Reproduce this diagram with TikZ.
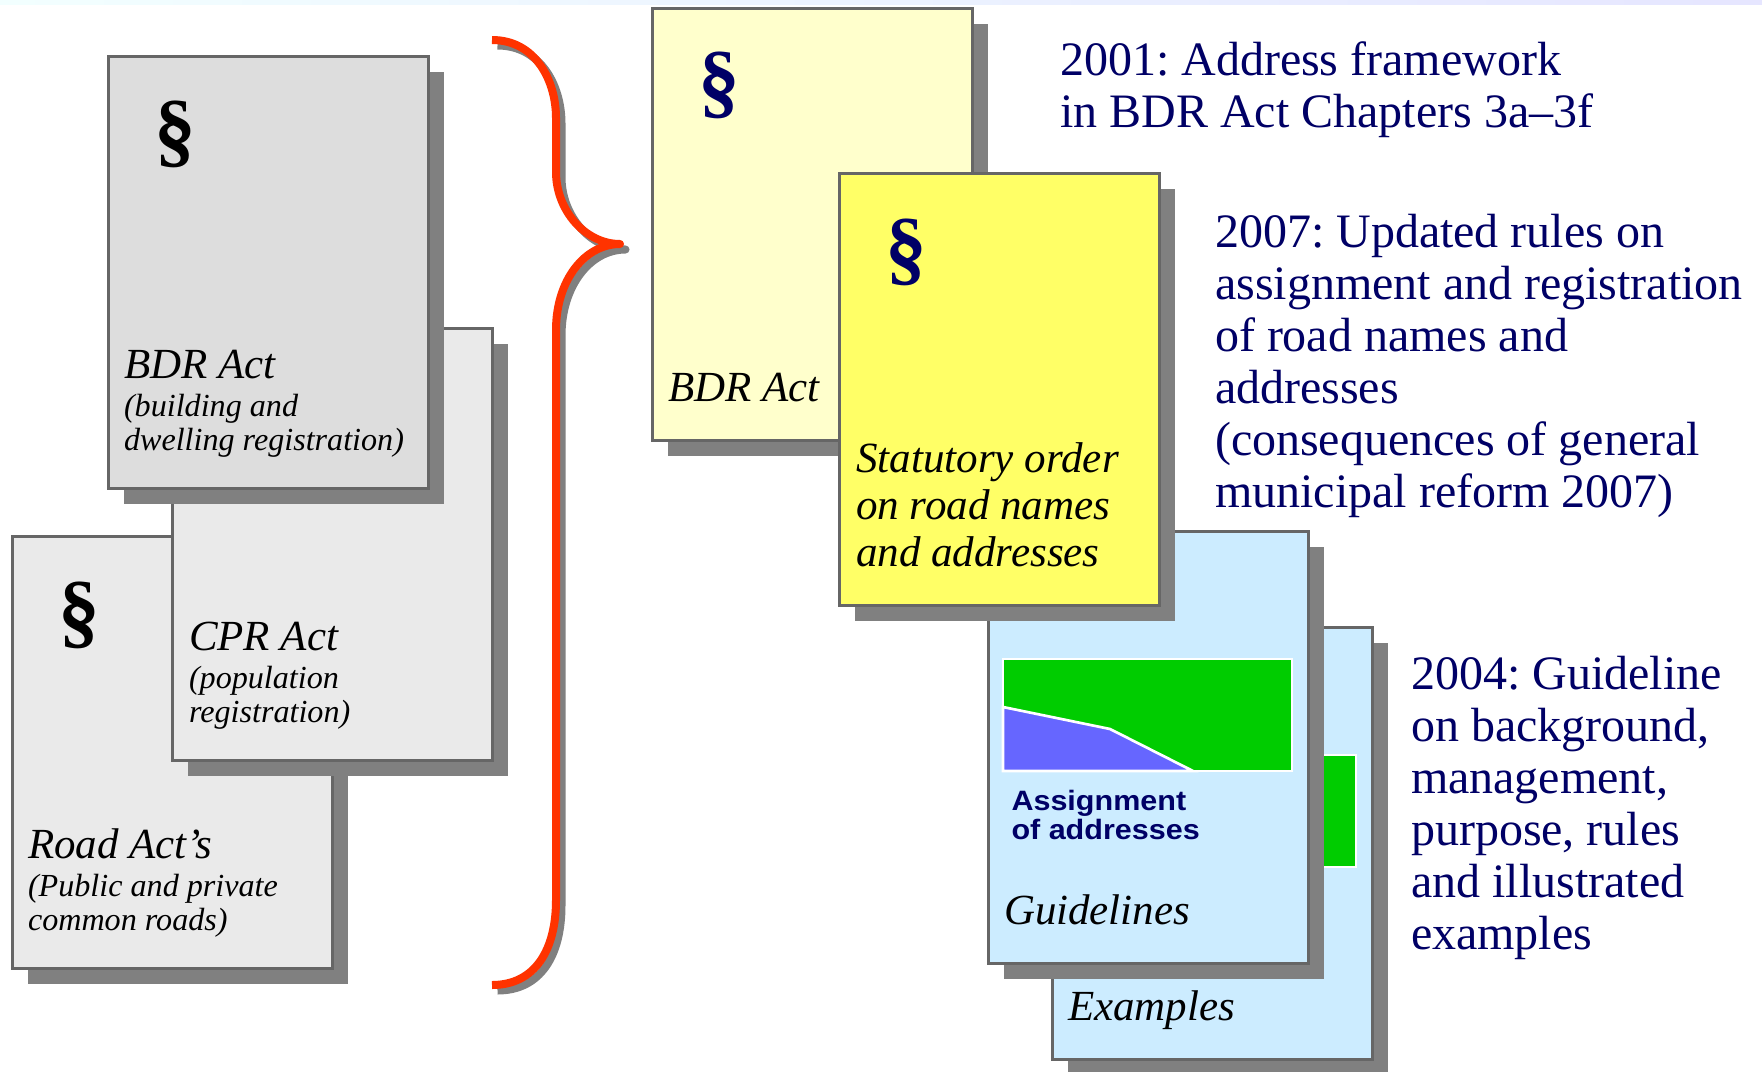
\documentclass[tikz,border=0pt]{standalone}
\usepackage{fontspec}
\setmainfont{Liberation Serif}
\setsansfont{Liberation Sans}
\newfontfamily\stretchsans[FakeStretch=1.09]{Liberation Sans}
\usetikzlibrary{shadows}
\definecolor{navy}{HTML}{000066}
\definecolor{shade}{HTML}{808080}
\definecolor{edge}{HTML}{666666}
\definecolor{greyA}{HTML}{DDDDDD}
\definecolor{greyB}{HTML}{EAEAEA}
\definecolor{paleY}{HTML}{FFFFCC}
\definecolor{brightY}{HTML}{FFFF66}
\definecolor{paleB}{HTML}{CCECFF}
\definecolor{chartG}{HTML}{00CC00}
\definecolor{chartB}{HTML}{6666FF}
\definecolor{braceR}{HTML}{FF3300}
\newcommand{\fs}[1]{\fontsize{#1}{#1}\selectfont}
\tikzset{
  x=.75pt,y=-.75pt,
  page/.style={anchor=north west,inner sep=0pt,outer sep=0pt,minimum width=240pt,minimum height=324pt,draw=edge,line width=2.25pt,fill=#1,
    general shadow={fill=shade,shadow xshift=12pt,shadow yshift=-12pt}},
  para/.style={anchor=north west,inner sep=0pt,outer sep=0pt,text=navy,align=left,font=\fs{36},execute at begin node={\frenchspacing\setlength{\baselineskip}{39pt}}},
  title/.style={anchor=base west,inner sep=0pt,outer sep=0pt,font=\fs{32.2}\itshape},
  sub/.style={anchor=base west,inner sep=0pt,outer sep=0pt,font=\fs{24.1}\itshape},
  para2/.style={anchor=north west,inner sep=0pt,outer sep=0pt,align=left,font=\fs{32.3}\itshape,execute at begin node={\setlength{\baselineskip}{35pt}}},
  sect/.style={anchor=center,inner sep=0pt,outer sep=0pt,font=\fs{62.5}\bfseries},
  chart/.style={draw=white,line width=2pt},
  bracepath/.style={line width=6pt,line cap=butt,line join=round},
  smallhead/.style={anchor=base west,inner sep=0pt,outer sep=0pt,text=navy,font=\fs{21}\stretchsans\bfseries}
}
\begin{document}
\begin{tikzpicture}
\useasboundingbox (0,0) rectangle (1762,1071);
\fill[white] (0,0) rectangle (1762,1071);
\shade[left color=cyan!5,right color=blue!10] (0,0) rectangle (1762,4);
% brace
\foreach \c/\o in {shade/5.5,braceR/0}{
\draw[bracepath,color=\c,shift={(\o,\o)}] (492,40) .. controls (535,40) and (556,80) .. (556,118) -- (556,172) .. controls (556,210) and (585,244) .. (620,244) .. controls (585,244) and (556,280) .. (556,330) -- (556,900) .. controls (556,950) and (535,985) .. (492,985);
}
% left stack
\node[page=greyB] (road) at (12,536) {};
\node[page=greyB] (cpr) at (172,328) {};
\node[page=greyA] (bdrL) at (108,56) {};
\node[sect] (s1) at (175,134) {§};
\node[sect] (s2) at (79,615) {§};
\node[title] (t1) at (124,378.5) {BDR Act};
\node[sub] (t2) at (124,416) {(building and};
\node[sub] (t3) at (124,450) {dwelling registration)};
\node[title] (t4) at (189,650.5) {CPR Act};
\node[sub] (t5) at (189,688) {(population};
\node[sub] (t6) at (189,722) {registration)};
\node[title] (t7) at (28,858) {Road Act’s};
\node[sub] (t8) at (28,896) {(Public and private};
\node[sub] (t9) at (28,930) {common roads)};
% right stacks
\node[page=paleY] (bdrR) at (652,8) {};
\node[sect,text=navy] (s3) at (719,85) {§};
\node[title] (t10) at (668,401) {BDR Act};
\node[page=paleB] (ex) at (1052,627) {};
\fill[chartG,chart] (1067,755) rectangle (1356,867);
\node[title] (t11) at (1068,1020) {Examples};
\node[page=paleB] (gd) at (988,531) {};
\fill[chartG,chart] (1003,659) rectangle (1292,771);
\fill[chartB,chart] (1003,707) -- (1110,729) -- (1193,771) -- (1003,771) -- cycle;
\node[smallhead] (a1) at (1011.5,810) {Assignment};
\node[smallhead] (a2) at (1011.5,839) {of addresses};
\node[title] (t12) at (1004,924) {Guidelines};
\node[page=brightY] (st) at (839,173) {};
\node[sect,text=navy] (s4) at (906,252) {§};
\node[para2] (t13) at (856,443) {Statutory order\\on road names\\and addresses};
% captions
\node[para] (c1) at (1060,41.5) {2001: Address framework\\in BDR Act Chapters 3a–3f};
\node[para] (c2) at (1215,214.5) {2007: Updated rules on\\assignment and registration\\of road names and\\addresses\\(consequences of general\\municipal reform 2007)};
\node[para] (c3) at (1411,656.5) {2004: Guideline\\on background,\\management,\\purpose, rules\\and illustrated\\examples};
\end{tikzpicture}
\end{document}
